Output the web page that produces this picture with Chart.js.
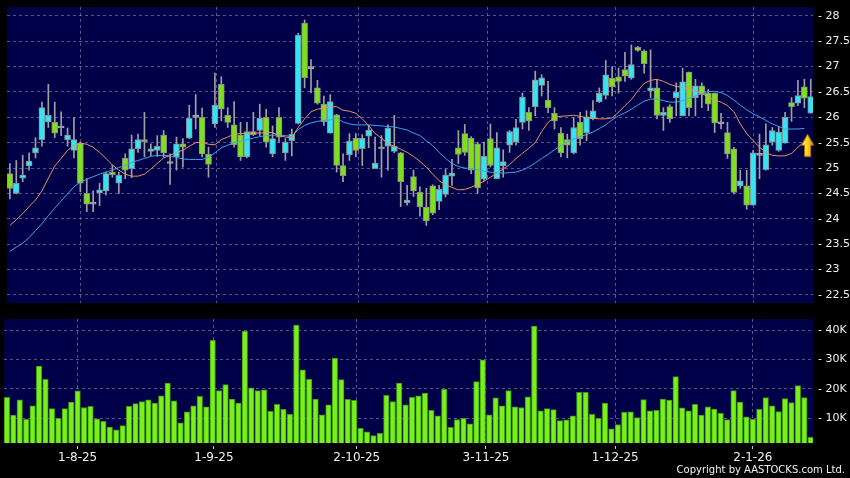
<!DOCTYPE html>
<html>
<head>
<meta charset="utf-8">
<script src="https://cdn.jsdelivr.net/npm/chart.js@4.4.1/dist/chart.umd.min.js"></script>
<style>
  html, body { margin: 0; padding: 0; background: #000; }
  #wrap { position: relative; width: 850px; height: 478px; overflow: hidden; background: #000; }
  #priceBox { position: absolute; left: 0; top: 0; width: 850px; height: 310px; }
  #volBox { position: absolute; left: 0; top: 310px; width: 850px; height: 168px; }
  #copy { position: absolute; right: 5px; top: 464px; color: #f2f2f2; font: 10px "DejaVu Sans"; line-height: 12px; white-space: nowrap; }
</style>
</head>
<body>
<div id="wrap">
  <div id="priceBox"><canvas id="price" width="850" height="310"></canvas></div>
  <div id="volBox"><canvas id="vol" width="850" height="168"></canvas></div>
  <div id="copy">Copyright by AASTOCKS.com Ltd.</div>
</div>
<script>
/* data, one entry per trading day */
const dateLabels = ["1-8-25", "1-9-25", "2-10-25", "3-11-25", "1-12-25", "2-1-26"];
const dateTickPos = [11, 32.2, 54.4, 74.5, 94.6, 116];

const opens = [24.89,24.50,24.80,25.04,25.30,25.56,25.91,25.90,25.79,25.56,25.35,25.49,24.50,24.29,24.51,24.55,24.92,24.70,25.19,24.99,
  25.38,25.56,25.33,25.35,25.65,25.09,25.22,25.48,25.59,26.00,26.00,25.27,25.87,26.65,26.04,25.85,25.65,25.22,25.72,25.74,
  26.00,25.28,26.00,25.30,25.54,25.88,27.86,26.96,26.58,26.26,25.69,26.05,25.05,25.26,25.59,25.38,25.63,24.99,25.41,25.43,
  25.33,25.30,24.32,24.83,24.52,24.23,24.65,24.34,24.48,24.84,25.40,25.68,25.59,25.48,24.78,25.58,24.79,25.04,25.45,25.51,
  25.90,26.10,26.21,26.63,26.34,26.08,25.69,25.56,25.30,25.90,25.70,25.97,26.31,26.43,26.77,26.80,26.94,26.77,27.38,27.31,
  26.52,26.58,26.04,26.21,26.39,26.03,26.89,26.39,26.62,26.48,26.48,25.87,25.70,25.38,24.65,24.65,24.27,25.25,24.97,25.51,
  25.35,25.49,26.29,26.28,26.60,26.08];
const highs = [25.09,25.15,25.25,25.30,25.60,26.30,26.65,26.30,26.11,25.79,26.00,25.51,24.79,24.55,24.70,24.92,25.05,24.92,25.28,25.65,
  25.67,26.10,25.48,25.64,25.74,25.28,25.61,25.58,26.24,26.45,26.18,25.41,26.87,26.80,26.19,26.31,25.90,25.90,26.10,26.26,
  26.16,25.83,26.19,25.58,25.77,27.66,27.92,27.14,26.73,26.42,26.45,26.06,25.28,25.68,25.68,25.66,25.84,25.61,25.64,25.85,
  26.04,25.31,24.66,24.96,24.63,24.60,24.67,24.66,24.98,25.17,25.74,25.86,25.62,25.51,25.51,25.87,25.70,25.36,25.74,25.96,
  26.48,26.19,26.91,26.84,26.71,26.19,25.80,25.67,26.00,26.10,26.13,26.33,26.58,27.12,27.00,26.97,27.28,27.43,27.40,27.33,
  27.33,26.75,26.19,26.25,26.68,26.97,26.89,26.75,26.68,26.55,26.48,26.08,25.90,25.41,24.96,24.96,25.35,25.67,25.87,25.80,
  25.82,26.10,26.39,26.73,26.75,26.75];
const lows = [24.39,24.49,24.73,24.96,25.20,25.43,25.80,25.60,25.64,25.43,25.20,24.53,24.14,24.14,24.26,24.47,24.82,24.50,24.79,24.81,
  25.31,25.22,25.24,25.23,25.22,24.68,24.96,25.02,25.58,25.77,25.22,24.82,25.80,25.93,25.80,25.41,25.15,25.20,25.64,25.64,
  25.41,25.22,25.51,25.15,25.24,25.87,26.58,26.48,26.26,25.84,25.69,24.92,24.73,25.15,25.22,25.05,25.40,24.99,24.82,24.96,
  25.30,24.24,24.27,24.44,24.05,23.87,24.08,24.18,24.43,24.66,25.09,25.25,24.89,24.50,24.75,25.02,24.79,24.82,25.31,25.45,
  25.77,25.74,26.03,26.42,26.09,25.77,25.22,25.20,25.28,25.45,25.54,25.95,26.29,26.36,26.42,26.48,26.71,26.75,27.30,26.87,
  26.39,25.97,25.74,25.90,26.03,26.03,26.03,26.03,26.19,26.13,25.70,25.77,25.19,24.49,24.60,24.19,24.27,24.79,24.96,25.45,
  25.33,25.49,25.92,26.23,26.19,26.08];
const closes = [24.60,24.70,24.86,25.14,25.40,26.19,26.04,25.69,25.79,25.65,25.56,24.70,24.29,24.29,24.57,24.89,24.87,24.86,24.96,25.38,
  25.56,25.52,25.38,25.43,25.30,25.09,25.48,25.41,25.98,26.00,25.28,25.07,26.24,26.16,25.90,25.46,25.22,25.72,25.66,25.98,
  25.51,25.58,25.61,25.51,25.67,27.62,26.78,26.96,26.28,25.91,26.31,25.05,24.85,25.53,25.35,25.59,25.75,25.10,25.38,25.79,
  25.43,24.73,24.37,24.55,24.24,23.96,24.11,24.58,24.86,24.90,25.27,25.31,24.96,24.61,25.23,25.05,25.40,25.13,25.72,25.80,
  26.40,25.93,26.74,26.78,26.19,25.93,25.30,25.45,25.80,25.58,26.01,26.13,26.48,26.84,26.60,26.71,26.81,27.04,27.32,27.06,
  26.58,26.04,26.10,25.97,26.50,26.70,26.19,26.62,26.45,26.26,25.89,25.87,25.28,24.52,24.75,24.27,25.30,25.25,25.46,25.74,
  25.71,26.00,26.21,26.43,26.38,26.41];

// volume in thousands
const volume = [17.1,11.0,16.2,9.6,14.2,27.7,23.2,13.2,9.9,13.2,15.4,19.3,13.6,14.0,9.7,8.9,6.9,6.0,7.4,14.0,
  14.9,15.6,16.2,15.1,17.6,21.9,15.9,8.4,12.1,14.2,17.4,13.8,36.5,19.4,21.4,16.5,15.1,39.6,20.3,19.4,
  19.6,12.3,14.7,13.0,11.3,41.7,26.4,23.2,16.5,11.1,14.5,30.4,23.1,16.4,16.0,6.5,5.3,4.0,4.8,17.7,
  15.6,21.9,14.5,17.1,17.6,18.5,12.6,10.8,19.8,6.8,9.5,9.9,8.0,22.4,29.8,11.1,16.9,14.2,19.4,13.8,
  13.6,17.2,41.3,12.5,13.2,12.9,9.1,9.4,10.8,18.8,18.8,11.3,9.9,15.1,6.3,7.8,12.0,12.1,10.2,16.3,
  12.5,12.6,16.5,16.1,24.1,13.5,12.5,14.7,11.0,13.8,13.1,11.6,9.5,19.4,15.4,10.4,9.6,13.0,17.0,14.2,
  12.2,16.6,15.3,21.1,17.0,3.4];

// moving averages as drawn (orange = short, blue = long)
const maShort = [23.87,23.98,24.10,24.24,24.37,24.55,24.80,25.04,25.19,25.35,25.44,25.49,25.47,25.41,25.31,25.19,25.06,24.96,24.88,24.84,
  24.84,24.88,24.98,25.09,25.20,25.25,25.31,25.35,25.43,25.50,25.51,25.47,25.46,25.56,25.61,25.67,25.68,25.68,25.69,25.69,
  25.70,25.70,25.64,25.61,25.60,25.80,25.97,26.11,26.16,26.18,26.21,26.21,26.14,26.12,26.08,25.97,25.84,25.68,25.59,25.48,
  25.43,25.37,25.31,25.23,25.13,25.02,24.88,24.75,24.67,24.62,24.57,24.58,24.62,24.68,24.74,24.82,24.90,24.98,25.07,25.19,
  25.29,25.39,25.50,25.72,25.90,26.00,26.02,26.03,26.04,26.02,25.99,25.98,25.97,25.97,25.99,26.10,26.23,26.35,26.52,26.67,
  26.73,26.75,26.71,26.65,26.61,26.59,26.56,26.52,26.47,26.40,26.34,26.30,26.23,26.11,25.87,25.68,25.54,25.41,25.31,25.25,
  25.24,25.24,25.29,25.41,25.52];
const maLong = [23.36,23.44,23.52,23.63,23.77,23.90,24.06,24.21,24.35,24.49,24.63,24.72,24.78,24.83,24.88,24.92,24.96,25.01,25.05,25.11,
  25.15,25.19,25.23,25.25,25.25,25.24,25.21,25.18,25.17,25.17,25.17,25.21,25.30,25.40,25.45,25.50,25.53,25.56,25.59,25.62,
  25.64,25.65,25.65,25.64,25.62,25.76,25.84,25.89,25.92,25.94,25.95,25.99,25.91,25.87,25.85,25.85,25.85,25.84,25.83,25.82,
  25.81,25.78,25.75,25.69,25.64,25.54,25.44,25.31,25.19,25.09,25.03,25.00,24.99,24.97,24.94,24.92,24.91,24.90,24.91,24.92,
  24.96,25.02,25.10,25.19,25.27,25.36,25.44,25.51,25.57,25.62,25.66,25.71,25.78,25.85,25.95,26.03,26.09,26.16,26.24,26.32,
  26.36,26.36,26.33,26.30,26.30,26.33,26.37,26.42,26.47,26.51,26.51,26.49,26.43,26.34,26.24,26.15,26.07,26.01,25.94,25.87,
  25.82,25.77,25.77,25.77,25.78];

const signalIndex = [124.5];
const signalPrice = [25.45];

const priceTicks = [22.5, 23, 23.5, 24, 24.5, 25, 25.5, 26, 26.5, 27, 27.5, 28];
const volumeTicks = [10, 20, 30, 40];

/* look */
Chart.defaults.font.family = "DejaVu Sans";
Chart.defaults.color = "#f0f0f0";
const panelColor = "#000048";
const gridColor = "rgba(140,140,190,0.6)";
const upColor = "#35e3f2";
const downColor = "#7ee01c";
const dojiColor = "#a6a6a6";

const panelBg = {
  id: "panelBg",
  beforeDraw(chart) {
    const { ctx, chartArea: a } = chart;
    ctx.save();
    ctx.fillStyle = panelColor;
    ctx.fillRect(a.left, a.top, a.width, a.height);
    ctx.restore();
  }
};

function makeArrow() {
  const c = document.createElement("canvas");
  c.width = 13; c.height = 23;
  const g = c.getContext("2d");
  const grad = g.createLinearGradient(0, 0, 13, 0);
  grad.addColorStop(0, "#fff39a");
  grad.addColorStop(0.5, "#ffd21f");
  grad.addColorStop(1, "#d98c00");
  g.beginPath();
  g.moveTo(6.5, 0.5); g.lineTo(12.5, 11.5); g.lineTo(9.5, 11.5); g.lineTo(9.5, 22.5);
  g.lineTo(3.5, 22.5); g.lineTo(3.5, 11.5); g.lineTo(0.5, 11.5); g.closePath();
  g.fillStyle = grad; g.fill();
  g.strokeStyle = "#b87400"; g.lineWidth = 1; g.stroke();
  return c;
}

const xMin = -0.45, xMax = 125.35;
const setTicks = (arr) => (s) => { s.ticks = arr.map(v => ({ value: v })); };
// fixed axis size, no extra room for edge labels
const fixWidth = (w) => (s) => { s.width = w; s.paddingTop = 0; s.paddingBottom = 0; };
const fixHeight = (h) => (s) => { s.height = h; s.paddingLeft = 0; s.paddingRight = 0; };

const bodies = opens.map((o, i) => ({ x: i, y: [Math.min(o, closes[i]), Math.max(o, closes[i])] }));
const wicks = highs.map((h, i) => ({ x: i, y: [lows[i], h] }));
const bodyColors = opens.map((o, i) => closes[i] > o ? upColor : closes[i] < o ? downColor : dojiColor);

/* PRICE PANEL */
new Chart(document.getElementById("price"), {
  type: "bar",
  data: {
    datasets: [
      {
        type: "scatter",
        data: signalIndex.map((x, i) => ({ x, y: signalPrice[i] })),
        pointStyle: makeArrow(),
        pointRadius: 6,
        clip: false,
        order: 0
      },
      {
        type: "line",
        data: maShort.map((y, i) => ({ x: i, y })),
        borderColor: "#e8935c", borderWidth: 1, pointRadius: 0, tension: 0,
        order: 1
      },
      {
        type: "line",
        data: maLong.map((y, i) => ({ x: i, y })),
        borderColor: "#3aa6ea", borderWidth: 1, pointRadius: 0, tension: 0,
        order: 2
      },
      {
        data: bodies,
        backgroundColor: bodyColors,
        borderColor: bodyColors.map(c => c === dojiColor ? dojiColor : "#8c8c8c"),
        borderWidth: 1,
        borderSkipped: false,
        barThickness: 6,
        minBarLength: 2,
        grouped: false,
        order: 3
      },
      {
        data: wicks,
        backgroundColor: "#a0a0a0",
        barThickness: 1,
        grouped: false,
        order: 4
      }
    ]
  },
  options: {
    responsive: false,
    animation: false,
    devicePixelRatio: 1,
    events: [],
    layout: { padding: { left: 4, top: 4, right: 0, bottom: 3 } },
    plugins: { legend: { display: false }, tooltip: { enabled: false } },
    scales: {
      x: {
        type: "linear", min: xMin, max: xMax, offset: false,
        afterBuildTicks: setTicks(dateTickPos),
        afterFit: fixHeight(0),
        ticks: { display: false },
        grid: { offset: false, color: gridColor, drawTicks: false },
        border: { display: false, dash: [3, 3] }
      },
      y: {
        position: "right", min: 22.34, max: 28.175,
        afterBuildTicks: setTicks(priceTicks),
        afterFit: fixWidth(37),
        ticks: { font: { size: 11 }, padding: 5, callback: v => "- " + v },
        grid: { color: gridColor, drawTicks: false },
        border: { display: false, dash: [3, 3] }
      }
    }
  },
  plugins: [panelBg]
});

/* VOLUME PANEL */
new Chart(document.getElementById("vol"), {
  type: "bar",
  data: {
    datasets: [{
      data: volume.map((v, i) => ({ x: i, y: v })),
      backgroundColor: "#78f01a",
      borderColor: "#3f9614",
      borderWidth: 1,
      borderSkipped: false,
      barThickness: 5.5,
      grouped: false
    }]
  },
  options: {
    responsive: false,
    animation: false,
    devicePixelRatio: 1,
    events: [],
    layout: { padding: { left: 4, top: 9, right: 0, bottom: 0 } },
    plugins: { legend: { display: false }, tooltip: { enabled: false } },
    scales: {
      x: {
        type: "linear", min: xMin, max: xMax, offset: false,
        afterBuildTicks: setTicks(dateTickPos),
        afterFit: fixHeight(35),
        ticks: { font: { size: 12 }, padding: 2, maxRotation: 0, autoSkip: false, callback: (v, i) => dateLabels[i] },
        grid: { offset: false, color: gridColor, tickColor: "#c8c8c8", tickLength: 6, tickBorderDash: [0, 3, 3, 20] },
        border: { display: false, dash: [3, 3] }
      },
      y: {
        position: "right", min: 1.5, max: 43.75,
        afterBuildTicks: setTicks(volumeTicks),
        afterFit: fixWidth(37),
        ticks: { font: { size: 11 }, padding: 5, callback: v => "- " + v + "K" },
        grid: { color: gridColor, drawTicks: false },
        border: { display: false, dash: [3, 3] }
      }
    }
  },
  plugins: [panelBg]
});
</script>
</body>
</html>
